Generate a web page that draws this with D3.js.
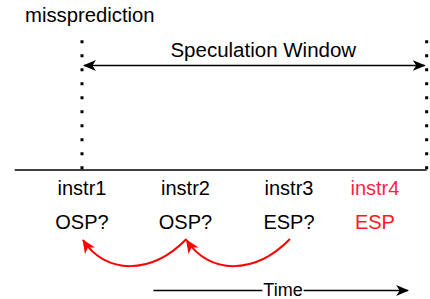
<!DOCTYPE html>
<html>
<head>
<meta charset="utf-8">
<script src="https://d3js.org/d3.v7.min.js"></script>
<style>
  body { margin: 0; background: #fff; }
  text { font-family: "Liberation Sans", Arial, sans-serif; }
</style>
</head>
<body>
<svg id="vis"></svg>

<script>
  // data
  var instrs = ["instr1", "instr2", "instr3", "instr4"];
  var predictions = ["OSP?", "OSP?", "ESP?", "ESP"];
  var slots = [1, 2, 3, 3.83];          // time slot of each instruction
  var instrColors = ["#000", "#000", "#000", "#ff1f4b"];
  var predColors = ["#000", "#000", "#000", "#ff1a1a"];
  var windowSlots = [1, 4.33];          // misprediction .. end of speculation window
  var timelineSlots = [0.35, 4.33];
  var timeArrowSlots = [1.69, 4.17];
  var backEdges = [[2, 1], [1, 0]];     // ESP? -> OSP?, OSP? -> OSP?

  var svg = d3.select("#vis")
      .attr("width", 430)
      .attr("height", 299);

  var x = d3.scaleLinear()
      .domain([1, 2])
      .range([82, 185.5]);

  var defs = svg.append("defs");
  function arrowMarker(id, color, w, h) {
    defs.append("marker")
        .attr("id", id)
        .attr("viewBox", "0 0 " + w + " " + h)
        .attr("refX", w - 1)
        .attr("refY", h / 2)
        .attr("markerWidth", w)
        .attr("markerHeight", h)
        .attr("markerUnits", "userSpaceOnUse")
        .attr("orient", "auto-start-reverse")
      .append("path")
        .attr("d", "M0,0 L" + w + "," + h / 2 + " L0," + h + " L" + w * 0.28 + "," + h / 2 + " Z")
        .attr("fill", color);
  }
  arrowMarker("arrowBlack", "#000", 13, 11);
  arrowMarker("arrowRed", "#ff0000", 14, 12);

  // title
  svg.append("text")
      .attr("x", 25)
      .attr("y", 22)
      .attr("font-size", 20.3)
      .text("missprediction");

  // dotted window bounds
  svg.selectAll("line.bound")
      .data(windowSlots)
      .enter().append("line")
      .attr("class", "bound")
      .attr("x1", function(d) { return x(d); })
      .attr("x2", function(d) { return x(d); })
      .attr("y1", 40.2)
      .attr("y2", 171)
      .attr("stroke", "#000")
      .attr("stroke-width", 3)
      .attr("stroke-dasharray", "3 11");

  // speculation window arrow
  svg.append("line")
      .attr("x1", x(windowSlots[0]) + 2)
      .attr("x2", x(windowSlots[1]) - 2)
      .attr("y1", 65.5)
      .attr("y2", 65.5)
      .attr("stroke", "#000")
      .attr("stroke-width", 1.6)
      .attr("marker-start", "url(#arrowBlack)")
      .attr("marker-end", "url(#arrowBlack)");

  svg.append("text")
      .attr("x", (x(windowSlots[0]) + x(windowSlots[1])) / 2 + 9)
      .attr("y", 57)
      .attr("text-anchor", "middle")
      .attr("font-size", 20.5)
      .text("Speculation Window");

  // timeline
  svg.append("line")
      .attr("x1", x(timelineSlots[0]))
      .attr("x2", x(timelineSlots[1]))
      .attr("y1", 170)
      .attr("y2", 170)
      .attr("stroke", "#000")
      .attr("stroke-width", 1.6);

  // instruction labels
  svg.selectAll("text.instr")
      .data(instrs)
      .enter().append("text")
      .attr("class", "instr")
      .attr("x", function(d, i) { return x(slots[i]); })
      .attr("y", 195)
      .attr("text-anchor", "middle")
      .attr("font-size", 20)
      .attr("fill", function(d, i) { return instrColors[i]; })
      .text(function(d) { return d; });

  svg.selectAll("text.pred")
      .data(predictions)
      .enter().append("text")
      .attr("class", "pred")
      .attr("x", function(d, i) { return x(slots[i]); })
      .attr("y", 229)
      .attr("text-anchor", "middle")
      .attr("font-size", 20)
      .attr("fill", function(d, i) { return predColors[i]; })
      .text(function(d) { return d; });

  // red back edges
  svg.selectAll("path.edge")
      .data(backEdges)
      .enter().append("path")
      .attr("class", "edge")
      .attr("d", function(d) {
        var x0 = x(slots[d[0]]) + 1, x3 = x(slots[d[1]]) + 1;
        var span = x0 - x3;
        return "M" + x0 + ",239 C" + (x0 - span * 0.34) + ",275 " +
               (x0 - span * 0.78) + ",275 " + x3 + ",240";
      })
      .attr("fill", "none")
      .attr("stroke", "#ff0000")
      .attr("stroke-width", 2)
      .attr("marker-end", "url(#arrowRed)");

  // time arrow
  var tx0 = x(timeArrowSlots[0]), tx1 = x(timeArrowSlots[1]);
  svg.append("line")
      .attr("x1", tx0)
      .attr("x2", tx1 - 2)
      .attr("y1", 290.5)
      .attr("y2", 290.5)
      .attr("stroke", "#000")
      .attr("stroke-width", 1.6)
      .attr("marker-end", "url(#arrowBlack)");

  var timeText = svg.append("text")
      .attr("x", 283)
      .attr("y", 296)
      .attr("text-anchor", "middle")
      .attr("font-size", 18)
      .text("Time");
  var bb = timeText.node().getBBox();
  svg.insert("rect", "text:last-of-type")
      .attr("x", bb.x - 1)
      .attr("y", bb.y + 2)
      .attr("width", bb.width + 2)
      .attr("height", bb.height - 4)
      .attr("fill", "#fff");
</script>
</body>
</html>
